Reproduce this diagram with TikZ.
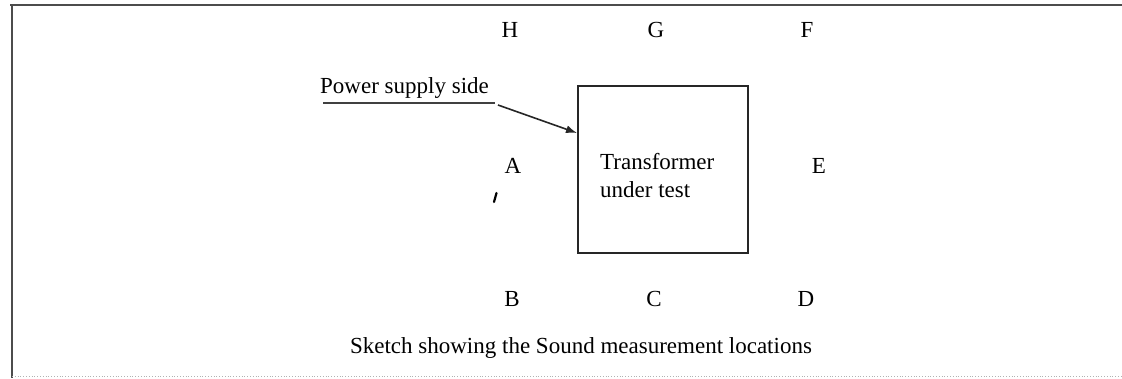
\documentclass[tikz,border=0pt]{standalone}
\usepackage{fontspec}
\setmainfont{Liberation Serif}
\usetikzlibrary{arrows.meta}
\begin{document}
\begin{tikzpicture}[x=1pt,y=-1pt,
  lbl/.style={font=\fontsize{23}{28}\selectfont, inner sep=0pt},
  frame/.style={draw=black!70, line width=1.3pt},
  boxst/.style={draw=black!85, line width=1.5pt, minimum width=170pt, minimum height=167pt, inner sep=0pt},
  ptr/.style={draw=black!85, line width=1.6pt, -{Latex[length=11pt,width=8pt]}},
  uline/.style={draw=black!75, line width=1.3pt}]
\useasboundingbox (0,0) rectangle (1122,378);
% frame
\coordinate (f1) at (10,5);
\coordinate (f2) at (1122,5);
\coordinate (f3) at (12,5);
\coordinate (f4) at (12,378);
\coordinate (f5) at (12,376);
\coordinate (f6) at (1122,376);
\draw[frame] (f1) -- (f2);
\draw[frame] (f3) -- (f4);
\draw[black!30, dotted, line width=0.8pt] (f5) -- (f6);
% transformer box
\node[boxst] (box) at (663,169.5) {};
\node[lbl, anchor=north west, align=left] (tx) at (600,153) {Transformer\\under test};
% letters
\node[lbl] (H) at (510,30) {H};
\node[lbl] (G) at (656,30) {G};
\node[lbl] (F) at (807,30) {F};
\node[lbl] (A) at (513,166) {A};
\node[lbl] (E) at (819,166) {E};
\node[lbl] (B) at (512,299) {B};
\node[lbl] (C) at (654,299) {C};
\node[lbl] (D) at (806,299) {D};
% power supply label
\node[lbl, anchor=base west] (ps) at (320,93) {Power supply side};
\coordinate (u1) at (323,103);
\coordinate (u2) at (495,103);
\draw[uline] (u1) -- (u2);
\coordinate (a0) at (498,105);
\coordinate (tip) at (577,133);
\draw[ptr] (a0) -- (tip);
% small stray mark
\coordinate (k1) at (496.5,193);
\coordinate (k2) at (494,202);
\draw[line width=2.2pt, line cap=round] (k1) -- (k2);
% caption
\node[lbl, anchor=base] (cap) at (581,353) {Sketch showing the Sound measurement locations};
\end{tikzpicture}
\end{document}
